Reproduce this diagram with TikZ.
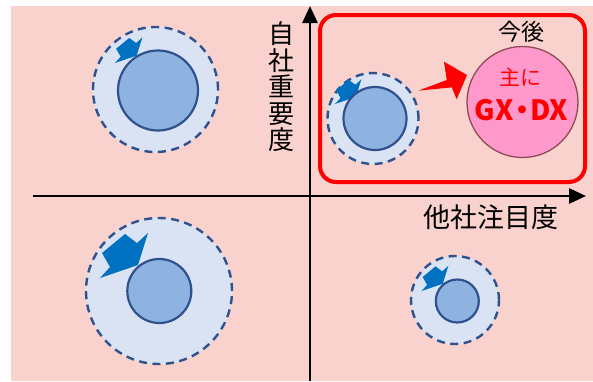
\documentclass[tikz,border=0pt]{standalone}
\usepackage{fontspec}
\setmainfont{Noto Sans CJK JP}
\usetikzlibrary{arrows.meta}
\definecolor{bgpink}{HTML}{F9D2CD}
\definecolor{haloblue}{HTML}{DAE3F3}
\definecolor{coreblue}{HTML}{8FB3E0}
\definecolor{edgeblue}{HTML}{2F528F}
\definecolor{arrowblue}{HTML}{0070C0}
\definecolor{hotpink}{HTML}{FF99CC}
\definecolor{pinkedge}{HTML}{8E4B55}
\definecolor{pred}{HTML}{FF0000}
\tikzset{
  halo/.style={circle, draw=edgeblue, line width=2.4pt, dash pattern=on 8pt off 5.5pt, fill=haloblue, inner sep=0pt},
  core/.style={circle, draw=edgeblue, line width=2.2pt, fill=coreblue, inner sep=0pt},
  axis/.style={line width=2.8pt, -{Triangle[length=17pt,width=15pt]}},
  lab/.style={inner sep=0pt, font=\fontsize{27}{27}\selectfont}
}
\newcommand{\bluearr}[3]{%
  \fill[arrowblue, shift={(#1,#2)}, scale=#3, yscale=-1]
    (2,25) -- (25,44) -- (37,35) -- (48,45) -- (38,13) -- (0,0) -- (10,11) -- cycle;}
\begin{document}
\begin{tikzpicture}[x=1pt,y=-1pt]
\useasboundingbox (0,0) rectangle (593,381);
\fill[bgpink] (11,6) rectangle (593,381);

% axes
\coordinate (xs) at (33,196);
\coordinate (xe) at (586,196);
\coordinate (ys) at (310,381);
\coordinate (ye) at (310,6);
\draw[axis] (xs) -- (xe);
\draw[axis] (ys) -- (ye);

% axis labels
\node[lab, align=center, font=\fontsize{26}{26.5}\selectfont] (ylab) at (281,87) {自\\社\\重\\要\\度};
\node[lab] (xlab) at (491,217) {他社注目度};

% top-left group
\node[halo, minimum size=125pt] (tlh) at (155.5,89.5) {};
\bluearr{115}{63}{0.57}
\node[core, minimum size=80pt] (tlc) at (158,90.5) {};

% bottom-left group
\node[halo, minimum size=146pt] (blh) at (159,291) {};
\bluearr{100}{278}{1}
\node[core, minimum size=64pt] (blc) at (159.3,291) {};

% bottom-right group
\node[halo, minimum size=88pt] (brh) at (455,300) {};
\bluearr{421.5}{291}{0.56}
\node[core, minimum size=43pt] (brc) at (457.3,301) {};

% top-right frame
\node[draw=pred, line width=4pt, rounded corners=16pt, minimum width=265pt, minimum height=167pt, inner sep=0pt] (frame) at (452.5,98.5) {};
\node[lab, font=\fontsize{23}{23}\selectfont] (kongo) at (521,32) {今後};

\node[halo, minimum size=91pt] (trh) at (373,118.5) {};
\bluearr{335}{104}{0.55}
\node[core, minimum size=63pt] (trc) at (375,118.5) {};

\fill[pred] (418.3,90.7) -- (446.7,80) -- (444,61.7) -- (467,75) -- (456.7,99.3) -- (451.7,87.3) -- cycle;

\node[circle, draw=pinkedge, line width=1.3pt, fill=hotpink, minimum size=111pt, inner sep=0pt] (goal) at (522.5,102) {};
\node[lab, text=pred, font=\fontsize{21}{21}\selectfont] (omo) at (520.5,77) {主に};
\node[lab, text=pred, font=\bfseries\fontsize{28}{28}\selectfont] (gxdx) at (521.5,110) {GX\kern-0.2em・\kern-0.2em DX};
\end{tikzpicture}
\end{document}
